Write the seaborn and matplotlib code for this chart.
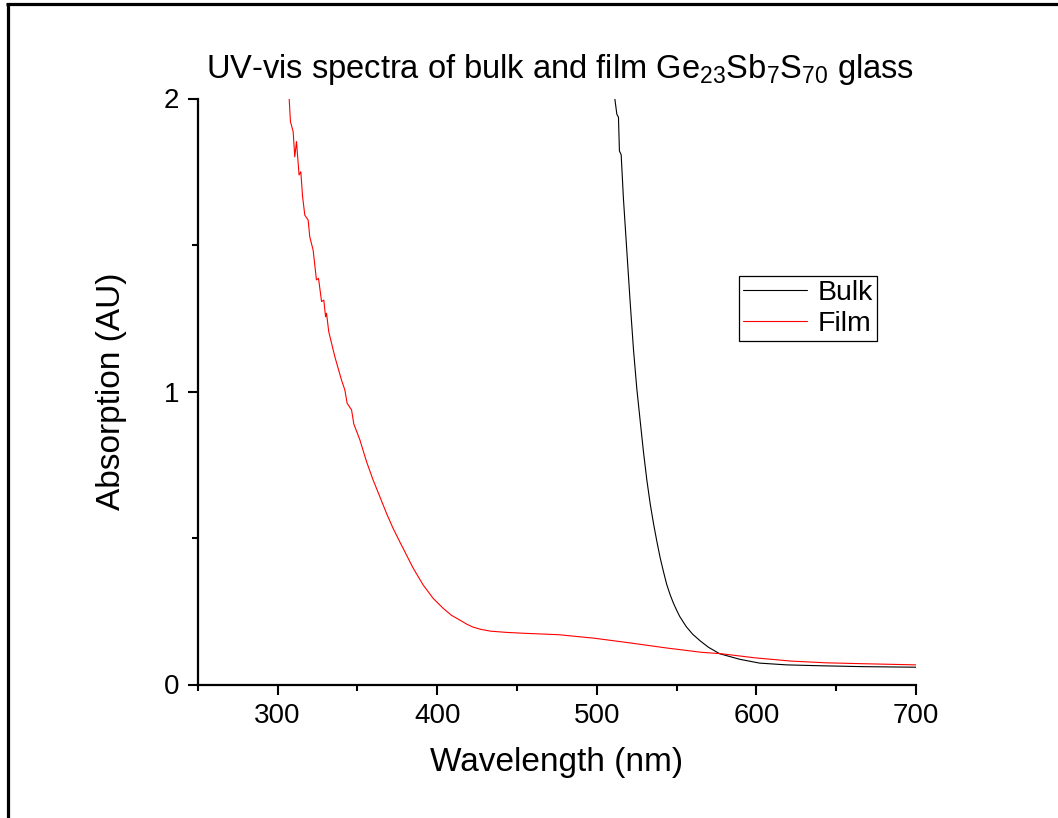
import matplotlib
matplotlib.use("Agg")
import matplotlib.pyplot as plt
from matplotlib.lines import Line2D
import numpy as np
import pandas as pd
import seaborn as sns

# Wavelength (nm) and absorption (AU) for the bulk glass
bulk_wavelength = [511.3, 512.6, 513.6, 514.2, 515.3, 516.7, 518.8, 520.9, 523.0, 525.1,
                   527.2, 529.3, 531.4, 533.5, 535.6, 537.7, 539.7, 541.8, 543.8, 546.0,
                   548.0, 550.0, 552.0, 556.0, 560.0, 565.0, 570.0, 577.0, 589.6, 602.0,
                   618.8, 639.7, 666.0, 700.0]
bulk_absorption = [2.000, 1.946, 1.936, 1.821, 1.808, 1.659, 1.483, 1.307, 1.144, 1.009,
                   0.900, 0.792, 0.697, 0.616, 0.548, 0.487, 0.433, 0.385, 0.342, 0.306,
                   0.278, 0.254, 0.232, 0.198, 0.172, 0.148, 0.127, 0.105, 0.086, 0.073,
                   0.067, 0.064, 0.061, 0.059]

# Wavelength (nm) and absorption (AU) for the thin film
film_wavelength = [307.3, 308.1, 309.8, 310.8, 311.9, 313.5, 314.6, 315.7, 317.1, 319.2,
                   320.2, 322.3, 324.4, 325.7, 327.6, 329.0, 330.1, 330.7, 332.1, 335.9,
                   340.1, 342.2, 343.6, 346.4, 347.8, 351.6, 355.8, 359.9, 364.1, 368.3,
                   372.4, 376.6, 380.8, 385.0, 391.2, 397.5, 403.8, 409.0, 414.2, 418.5,
                   422.4, 427.5, 433.6, 443.0, 453.7, 476.1, 498.4, 520.8, 543.2, 565.5,
                   578.0, 599.1, 621.5, 643.8, 666.2, 700.0]
film_absorption = [2.000, 1.921, 1.887, 1.801, 1.853, 1.739, 1.750, 1.665, 1.602, 1.585,
                   1.528, 1.483, 1.381, 1.386, 1.307, 1.312, 1.255, 1.267, 1.204, 1.119,
                   1.039, 1.005, 0.960, 0.937, 0.889, 0.835, 0.760, 0.698, 0.641, 0.584,
                   0.533, 0.487, 0.442, 0.397, 0.340, 0.294, 0.260, 0.236, 0.220, 0.206,
                   0.196, 0.188, 0.182, 0.178, 0.175, 0.170, 0.158, 0.142, 0.125, 0.110,
                   0.105, 0.091, 0.080, 0.074, 0.071, 0.067]

series_names = ["Bulk", "Film"]
series_colors = ["#000000", "#ff0000"]

x_major_ticks = [300, 400, 500, 600, 700]
x_minor_ticks = [250, 350, 450, 550, 650]
y_major_ticks = [0, 1, 2]
y_minor_ticks = [0.5, 1.5]

df = pd.concat([
    pd.DataFrame({"Wavelength": bulk_wavelength, "Absorption": bulk_absorption,
                  "Sample": series_names[0]}),
    pd.DataFrame({"Wavelength": film_wavelength, "Absorption": film_absorption,
                  "Sample": series_names[1]}),
], ignore_index=True)

sns.set_theme(style="ticks")
plt.rcParams["font.family"] = ["Liberation Sans", "DejaVu Sans"]
plt.rcParams["text.color"] = "black"
plt.rcParams["mathtext.fontset"] = "custom"
plt.rcParams["mathtext.rm"] = "Liberation Sans"
plt.rcParams["mathtext.it"] = "Liberation Sans"
plt.rcParams["mathtext.default"] = "regular"

W, H = 1058, 818
fig = plt.figure(figsize=(W / 100, H / 100), dpi=100)
fig.patch.set_facecolor("white")
ax = fig.add_axes([197.7 / W, 1 - 684.5 / H, (916.0 - 197.7) / W, (684.5 - 98.5) / H])
ax.set_facecolor("white")

sns.lineplot(data=df, x="Wavelength", y="Absorption", hue="Sample",
             hue_order=series_names, palette=dict(zip(series_names, series_colors)),
             estimator=None, sort=False, linewidth=0.8, ax=ax)

ax.set_xlim(250, 700)
ax.set_ylim(0, 2)
ax.set_xticks(x_major_ticks)
ax.set_xticks(x_minor_ticks, minor=True)
ax.set_yticks(y_major_ticks)
ax.set_yticks(y_minor_ticks, minor=True)
ax.set_xticklabels([str(v) for v in x_major_ticks])
ax.set_yticklabels([str(v) for v in y_major_ticks])

for side in ("top", "right"):
    ax.spines[side].set_visible(False)
for side in ("left", "bottom"):
    ax.spines[side].set_linewidth(1.6)
    ax.spines[side].set_color("black")

ax.tick_params(axis="both", which="major", direction="out", length=7.5, width=1.5,
               labelsize=20, pad=6, colors="black")
ax.tick_params(axis="both", which="minor", direction="out", length=4.2, width=1.5,
               colors="black")

ax.set_xlabel("Wavelength (nm)", fontsize=24, labelpad=13, color="black")
ax.set_ylabel("Absorption (AU)", fontsize=24, labelpad=26, color="black")
ax.set_title(r"UV-vis spectra of bulk and film Ge$_{23}$Sb$_{7}$S$_{70}$ glass",
             fontsize=23.5, pad=15, color="black", x=0.505)

handles, labels = ax.get_legend_handles_labels()
for h in handles:
    h.set_linewidth(0.8)
leg = ax.legend(handles, labels, loc="upper left",
                bbox_to_anchor=(739 / W, 1 - 276 / H), bbox_transform=fig.transFigure,
                fontsize=20.5, frameon=True, fancybox=False, framealpha=1,
                edgecolor="black", borderpad=0.15, labelspacing=0.15,
                handlelength=2.25, handletextpad=0.35, borderaxespad=0,
                labelcolor="black")
leg.get_frame().set_linewidth(0.9)

# Page frame along the top and left edges
fig.add_artist(Line2D([6 / W, 1.0], [1 - 4 / H, 1 - 4 / H], transform=fig.transFigure,
                      color="black", linewidth=2.3, solid_capstyle="butt"))
fig.add_artist(Line2D([7.5 / W, 7.5 / W], [0.0, 1 - 2.5 / H], transform=fig.transFigure,
                      color="black", linewidth=2.3, solid_capstyle="butt"))

fig.savefig("out.png", dpi=100, facecolor="white")
